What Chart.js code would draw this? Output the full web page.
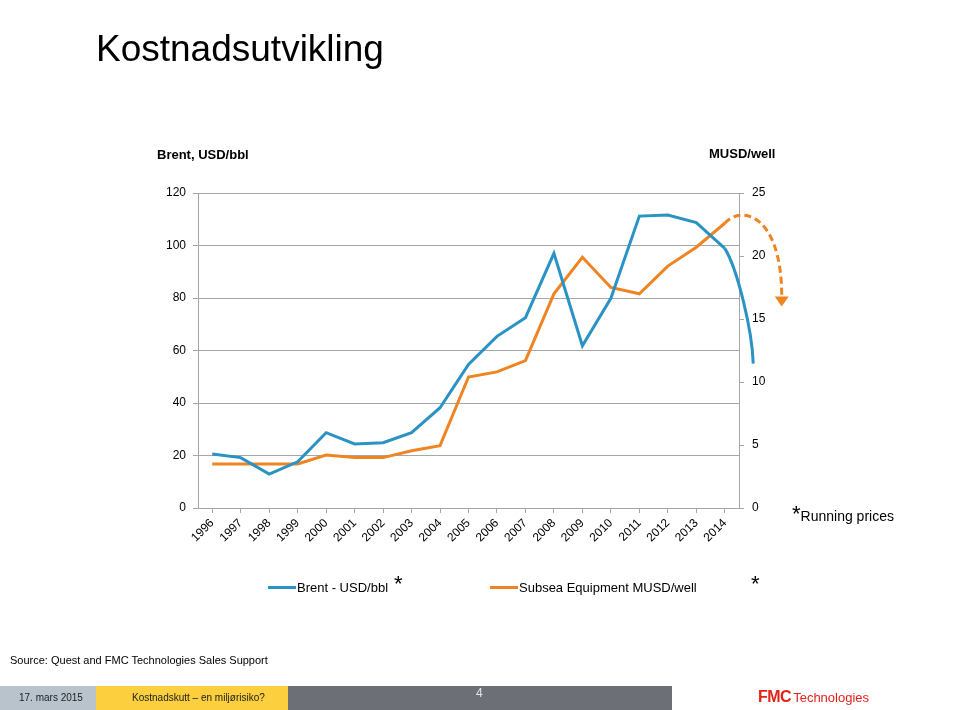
<!DOCTYPE html>
<html lang="no">
<head>
<meta charset="utf-8">
<title>Kostnadsutvikling</title>
<script src="https://cdn.jsdelivr.net/npm/chart.js@4.4.1/dist/chart.umd.min.js"></script>
<style>
  html, body { margin: 0; padding: 0; background: #fff; }
  body { width: 960px; height: 710px; position: relative; overflow: hidden;
         font-family: "Liberation Sans", Arial, sans-serif; color: #000; }
  #chart { position: absolute; left: 0; top: 0; }
  .txt { position: absolute; white-space: nowrap; line-height: 1; }
  .star { font-size: 22px; }
  .bar { position: absolute; top: 686px; height: 24px; }
</style>
</head>
<body>
<canvas id="chart" width="960" height="710"></canvas>

<div class="txt" style="left:96px; top:30px; font-size:37px;">Kostnadsutvikling</div>
<div class="txt" style="left:157px; top:148px; font-size:13px; font-weight:bold;">Brent, USD/bbl</div>
<div class="txt" style="left:709px; top:147px; font-size:13px; font-weight:bold;">MUSD/well</div>
<div class="txt" style="left:792px; top:503px; font-size:14px;"><span class="star">*</span>Running prices</div>

<div id="legend"></div>
<div class="txt star" style="left:394px; top:573px;">*</div>
<div class="txt star" style="left:751px; top:573px;">*</div>

<div class="txt" style="left:10px; top:655px; font-size:11px;">Source: Quest and FMC Technologies Sales Support</div>

<div class="bar" style="left:0; width:96px; background:#b9c3cc;"></div>
<div class="bar" style="left:96px; width:192px; background:#fccf3f;"></div>
<div class="bar" style="left:288px; width:384px; background:#6c6f76;"></div>
<div class="txt" style="left:19px; top:693px; font-size:10px; color:#222;">17. mars 2015</div>
<div class="txt" style="left:132px; top:693px; font-size:10px; color:#222;">Kostnadskutt – en miljørisiko?</div>
<div class="txt" style="left:476px; top:687px; font-size:12px; color:#e6e6e6;">4</div>
<div class="txt" style="left:758px; top:689px; color:#e2231a;"><span style="font-size:16px; font-weight:900; letter-spacing:-0.5px;">FMC</span><span style="font-size:13px; margin-left:2px;">Technologies</span></div>

<script>
// categories
const years = ['1996', '1997', '1998', '1999', '2000', '2001', '2002', '2003', '2004', '2005',
               '2006', '2007', '2008', '2009', '2010', '2011', '2012', '2013', '2014'];

// Brent, USD/bbl (left axis)
const brent = [20.6, 19.2, 12.9, 17.6, 28.7, 24.4, 24.9, 28.7, 38.2, 54.7,
               65.4, 72.5, 97.0, 61.8, 79.9, 111.2, 111.6, 108.7, 98.9];

// Subsea equipment, MUSD/well (right axis)
const subsea = [3.5, 3.5, 3.5, 3.5, 4.2, 4.0, 4.0, 4.55, 4.95, 10.4,
                10.8, 11.7, 17.0, 19.9, 17.5, 17.0, 19.2, 20.7, 22.6];

// outlook drawn past the last year
const outlookYears = ['2015', '2016'];
const brentOutlook = 55;   // 2015
const subseaOutlook = 16;  // 2016

// axis ticks
const brentTicks = [0, 20, 40, 60, 80, 100, 120];
const wellTicks = [0, 5, 10, 15, 20, 25];

const blue = '#2a93c4';
const orange = '#ef8422';
const gridColor = '#a6a6a6';

Chart.defaults.font.family = '"Liberation Sans", Arial, sans-serif';
Chart.defaults.color = '#000';

function yearIndex(y) {
    return Number(y) - Number(years[0]);
}

// the blue drop after 2014 and the dashed orange arrow
const outlookPlugin = {
    id: 'outlook',
    afterDatasetsDraw(chart) {
        const ctx = chart.ctx;
        const x = chart.scales.x, y = chart.scales.y, y1 = chart.scales.y1;
        const last = years.length - 1;

        // brent curve
        const p0 = {x: x.getPixelForValue(last), y: y.getPixelForValue(brent[last])};
        const p3 = {x: x.getPixelForValue(yearIndex(outlookYears[0])), y: y.getPixelForValue(brentOutlook)};
        let dx = p3.x - p0.x, dy = p3.y - p0.y;
        ctx.save();
        ctx.lineWidth = 3;
        ctx.strokeStyle = blue;
        ctx.beginPath();
        ctx.moveTo(p0.x, p0.y);
        ctx.bezierCurveTo(p0.x + 0.43 * dx, p0.y + 0.17 * dy,
                          p3.x - 0.04 * dx, p0.y + 0.7 * dy,
                          p3.x, p3.y);
        ctx.stroke();

        // subsea dashed arrow
        const s0 = {x: x.getPixelForValue(last), y: y1.getPixelForValue(subsea[last])};
        const tip = {x: x.getPixelForValue(yearIndex(outlookYears[1])), y: y1.getPixelForValue(subseaOutlook)};
        const s3 = {x: tip.x, y: tip.y - 10};
        dx = s3.x - s0.x;
        dy = s3.y - s0.y;
        ctx.strokeStyle = orange;
        ctx.fillStyle = orange;
        ctx.setLineDash([7, 4]);
        ctx.beginPath();
        ctx.moveTo(s0.x, s0.y);
        ctx.bezierCurveTo(s0.x + 0.29 * dx, s0.y - 0.26 * dy,
                          s3.x, s0.y - 0.12 * dy,
                          s3.x, s3.y);
        ctx.stroke();
        ctx.setLineDash([]);
        ctx.beginPath();
        ctx.moveTo(tip.x - 7, tip.y - 10);
        ctx.lineTo(tip.x + 7, tip.y - 10);
        ctx.lineTo(tip.x, tip.y);
        ctx.closePath();
        ctx.fill();
        ctx.restore();
    }
};

const ctx = document.getElementById('chart').getContext('2d');
const myChart = new Chart(ctx, {
    type: 'line',
    data: {
        labels: years,
        datasets: [{
            label: 'Brent - USD/bbl',
            data: brent,
            borderColor: blue,
            backgroundColor: blue,
            borderWidth: 3,
            pointRadius: 0,
            tension: 0,
            yAxisID: 'y'
        }, {
            label: 'Subsea Equipment MUSD/well',
            data: subsea,
            borderColor: orange,
            backgroundColor: orange,
            borderWidth: 3,
            pointRadius: 0,
            tension: 0,
            yAxisID: 'y1'
        }]
    },
    options: {
        responsive: false,
        animation: false,
        devicePixelRatio: 1,
        layout: {
            padding: {left: 158, right: 181, top: 193, bottom: 152}
        },
        plugins: {
            legend: {display: false},
            tooltip: {enabled: false}
        },
        scales: {
            x: {
                offset: true,
                grid: {
                    drawOnChartArea: false,
                    color: gridColor,
                    tickLength: 5
                },
                border: {color: gridColor},
                ticks: {
                    font: {size: 12},
                    minRotation: 45,
                    maxRotation: 45,
                    autoSkip: false,
                    padding: 3
                },
                afterFit: (scale) => { scale.height = 50; }
            },
            y: {
                position: 'left',
                min: 0,
                max: 120,
                afterBuildTicks: (scale) => { scale.ticks = brentTicks.map(v => ({value: v})); },
                grid: {color: gridColor, tickLength: 5},
                border: {color: gridColor},
                ticks: {font: {size: 12}, padding: 7},
                afterFit: (scale) => { scale.width = 40; }
            },
            y1: {
                position: 'right',
                min: 0,
                max: 25,
                afterBuildTicks: (scale) => { scale.ticks = wellTicks.map(v => ({value: v})); },
                grid: {drawOnChartArea: false, color: gridColor, tickLength: 5},
                border: {color: gridColor},
                ticks: {font: {size: 12}, padding: 8},
                afterFit: (scale) => { scale.width = 40; }
            }
        }
    },
    plugins: [outlookPlugin]
});

// html legend from the datasets
const legendLeft = [268, 490];
const legendBox = document.getElementById('legend');
myChart.data.datasets.forEach((ds, i) => {
    const mark = document.createElement('div');
    mark.style.cssText = 'position:absolute; top:586px; width:28px; height:3px; left:' + legendLeft[i] + 'px; background:' + ds.borderColor + ';';
    const label = document.createElement('div');
    label.className = 'txt';
    label.style.cssText = 'top:581px; font-size:13px; left:' + (legendLeft[i] + 29) + 'px;';
    label.textContent = ds.label;
    legendBox.appendChild(mark);
    legendBox.appendChild(label);
});
</script>
</body>
</html>
